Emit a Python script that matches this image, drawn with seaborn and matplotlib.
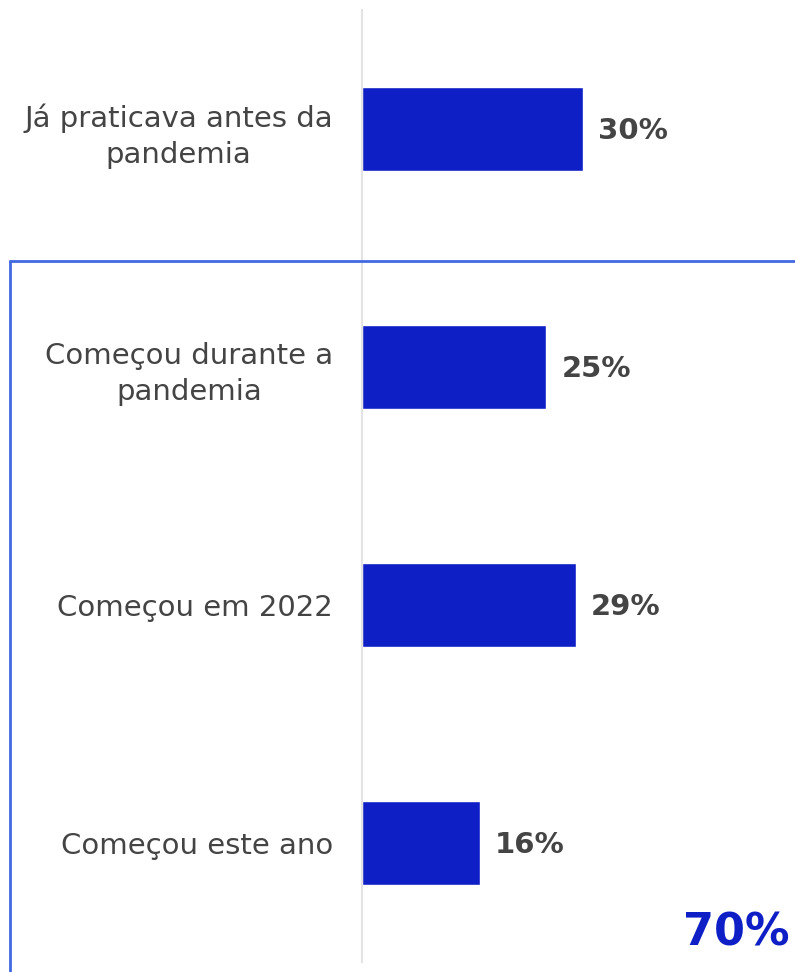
import matplotlib
matplotlib.use("Agg")
import matplotlib.pyplot as plt
import seaborn as sns
import pandas as pd
from matplotlib.lines import Line2D

categories = ["Já praticava antes da\npandemia", "Começou durante a\npandemia",
              "Começou em 2022", "Começou este ano"]
values = [30, 25, 29, 16]
value_labels = ["30%", "25%", "29%", "16%"]
total_label = "70%"

df = pd.DataFrame({"categoria": categories, "pct": values})

sns.set_style("white")
plt.rcParams["font.family"] = ["DejaVu Sans"]

fig = plt.figure(figsize=(7.95, 9.72), dpi=100)
ax = fig.add_axes([362 / 795, 10 / 972, 433 / 795, 952 / 972])

sns.barplot(data=df, y="categoria", x="pct", orient="h", color="#0F1FC6",
            width=0.355, saturation=1, ax=ax)

ax.set_xlim(0, 58.75)
ax.set_ylim(3.5, -0.5)
ax.set_xlabel("")
ax.set_ylabel("")
ax.set_xticks([])
for s in ["top", "right", "bottom"]:
    ax.spines[s].set_visible(False)
ax.spines["left"].set_color("#e3e3e3")
ax.spines["left"].set_linewidth(1.5)

ax.tick_params(axis="y", length=0, pad=21, labelsize=21, labelcolor="#444444")
for lbl in ax.get_yticklabels():
    lbl.set_multialignment("center")
    lbl.set_linespacing(1.38)

for i, (v, t) in enumerate(zip(values, value_labels)):
    ax.annotate(t, (v, i), xytext=(15, -2), textcoords="offset pixels",
                va="center", ha="left", fontsize=21, fontweight="bold",
                color="#444444")

# blue bracket box around the last three categories
box_color = "#4169E1"
fig.add_artist(Line2D([10 / 795, 10 / 795], [0, 1 - 261 / 972],
                      transform=fig.transFigure, color=box_color, lw=2))
fig.add_artist(Line2D([10 / 795, 1], [1 - 261 / 972, 1 - 261 / 972],
                      transform=fig.transFigure, color=box_color, lw=2))

fig.text(790 / 795, 1 - 933 / 972, total_label, ha="right", va="center",
         fontsize=32, fontweight="bold", color="#0F1FC6")

fig.savefig("out.png", dpi=100)
